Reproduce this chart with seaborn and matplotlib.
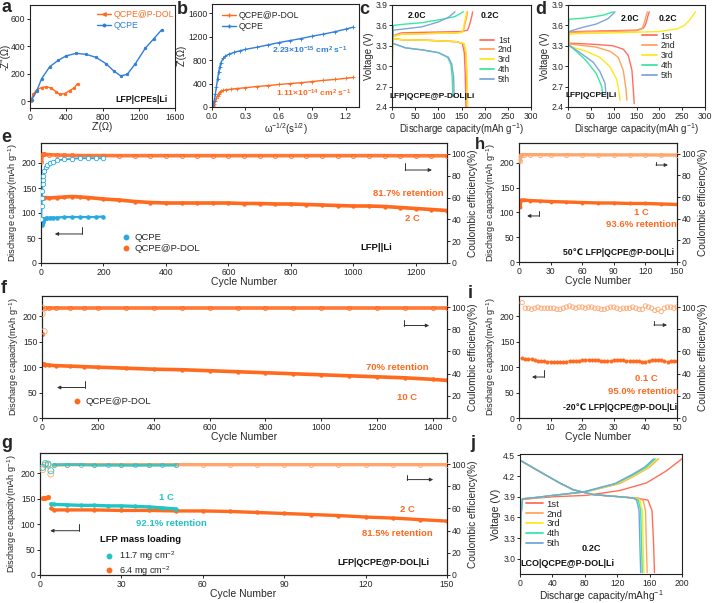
import matplotlib
matplotlib.use('Agg')
import matplotlib.pyplot as plt
import seaborn as sns
from matplotlib.lines import Line2D

# ---------------- data ----------------
# a: Nyquist plots
a_pdol_zre = [7, 36, 73, 127, 182, 236, 291, 327, 382, 436, 491, 525]
a_pdol_zim = [0, 49, 83, 99, 105, 94, 67, 49, 54, 76, 99, 128]
a_qcpe_zre = [18, 73, 127, 218, 309, 400, 509, 618, 727, 836, 927, 1000, 1073, 1164, 1273, 1364, 1455]
a_qcpe_zim = [9, 72, 162, 251, 296, 330, 348, 341, 319, 274, 218, 184, 195, 274, 386, 453, 521]

# b: Z' vs w^-1/2
b_pdol_w = [0.0, 0.01, 0.02, 0.03, 0.04, 0.05, 0.06, 0.07, 0.08, 0.1, 0.13, 0.17, 0.22, 0.3, 0.4, 0.5, 0.6, 0.7, 0.8, 0.9, 1.0, 1.1, 1.2, 1.27]
b_pdol_z = [0, 15, 50, 100, 150, 195, 230, 255, 270, 285, 295, 305, 315, 330, 350, 365, 385, 400, 415, 435, 455, 470, 490, 505]
b_qcpe_w = [0.0, 0.01, 0.02, 0.03, 0.04, 0.05, 0.06, 0.07, 0.08, 0.1, 0.12, 0.15, 0.2, 0.25, 0.3, 0.4, 0.5, 0.6, 0.7, 0.8, 0.9, 1.0, 1.1, 1.2, 1.27]
b_qcpe_z = [0, 40, 110, 220, 350, 480, 600, 690, 760, 830, 870, 900, 935, 960, 985, 1020, 1060, 1100, 1135, 1170, 1210, 1245, 1285, 1330, 1365]

cycle_labels = ['1st', '2nd', '3rd', '4th', '5th']

# c: LFP|QCPE@P-DOL|Li charge / discharge
c_ch_cap = [[0, 1, 3, 20, 80, 150, 163, 166, 169, 172, 174],
            [0, 1, 3, 20, 80, 140, 152, 155, 158, 161, 163],
            [0, 1, 3, 20, 80, 140, 152, 154, 156, 159, 161],
            [0, 1, 3, 30, 65, 108, 136, 154],
            [0, 1, 3, 29, 65, 100, 122, 136]]
c_ch_v = [[2.45, 3.3, 3.45, 3.49, 3.5, 3.51, 3.53, 3.58, 3.65, 3.73, 3.8],
          [2.45, 3.3, 3.44, 3.47, 3.48, 3.49, 3.5, 3.55, 3.63, 3.72, 3.8],
          [2.45, 3.3, 3.44, 3.47, 3.48, 3.49, 3.5, 3.55, 3.63, 3.72, 3.8],
          [2.45, 3.4, 3.6, 3.62, 3.64, 3.69, 3.73, 3.8],
          [2.45, 3.35, 3.53, 3.55, 3.58, 3.65, 3.72, 3.8]]
c_dis_cap = [[0, 20, 80, 140, 152, 156, 158, 159, 159.5],
             [0, 20, 80, 140, 155, 159, 161, 162, 162.5],
             [0, 20, 80, 140, 156, 160, 162, 163, 163.5],
             [0, 29, 65, 100, 120, 127, 130, 131, 132],
             [0, 29, 65, 100, 122, 129, 133, 134, 135]]
c_dis_v = [[3.41, 3.39, 3.38, 3.36, 3.33, 3.2, 2.9, 2.6, 2.4],
           [3.41, 3.39, 3.38, 3.36, 3.33, 3.2, 2.9, 2.6, 2.4],
           [3.41, 3.39, 3.38, 3.36, 3.33, 3.2, 2.9, 2.6, 2.4],
           [3.34, 3.27, 3.24, 3.2, 3.13, 3.03, 2.84, 2.6, 2.55],
           [3.34, 3.27, 3.24, 3.2, 3.13, 3.03, 2.84, 2.6, 2.55]]

# d: LFP|QCPE|Li charge / discharge
d_ch_cap = [[0, 1, 3, 20, 80, 150, 165, 169, 172, 175, 178],
            [0, 1, 3, 20, 80, 150, 162, 165, 168, 171, 174],
            [0, 1, 3, 20, 100, 200, 239, 255, 265, 273, 279],
            [0, 1, 2, 40, 77, 99],
            [0, 1, 2, 26, 62, 88, 103]]
d_ch_v = [[2.5, 3.3, 3.5, 3.51, 3.52, 3.53, 3.56, 3.6, 3.66, 3.74, 3.8],
          [2.5, 3.3, 3.49, 3.5, 3.51, 3.52, 3.55, 3.6, 3.66, 3.74, 3.8],
          [2.5, 3.3, 3.47, 3.48, 3.49, 3.51, 3.55, 3.6, 3.67, 3.74, 3.8],
          [2.55, 3.5, 3.69, 3.71, 3.75, 3.8],
          [2.55, 3.4, 3.51, 3.56, 3.62, 3.7, 3.8]]
d_dis_cap = [[0, 62, 99, 121, 132, 140, 143, 145],
             [0, 62, 92, 110, 121, 127, 129],
             [0, 40, 70, 92, 107, 112, 114],
             [0, 18, 40, 62, 74, 76],
             [0, 26, 55, 70, 81, 83]]
d_dis_v = [[3.34, 3.32, 3.3, 3.25, 3.16, 2.94, 2.66, 2.45],
           [3.33, 3.28, 3.22, 3.13, 2.94, 2.66, 2.5],
           [3.3, 3.22, 3.13, 2.99, 2.8, 2.61, 2.5],
           [3.32, 3.22, 3.08, 2.89, 2.7, 2.56],
           [3.32, 3.2, 3.06, 2.92, 2.75, 2.58]]

# e: long cycling LFP||Li
e_pdol_cyc = [1, 5, 10, 25, 50, 75, 100, 125, 150, 200, 250, 300, 350, 400, 450, 500, 550, 600, 650, 700,
              750, 800, 850, 900, 950, 1000, 1050, 1100, 1150, 1200, 1250, 1300]
e_pdol_cap = [130, 131, 131, 130, 131, 132, 133, 132, 131, 128, 126, 123, 121, 120, 120, 120, 120, 120, 119, 119,
              118, 118, 117, 116, 115, 114, 114, 113, 111, 109, 107, 105]
e_pdol_ce = [93, 99.5, 99.5, 99.3, 99, 98.8, 98.6, 98.5, 98.5, 98.5, 98.4, 98.4, 98.4, 98.4, 98.4, 98.4, 98.4, 98.4,
             98.4, 98.4, 98.4, 98.4, 98.4, 98.4, 98.4, 98.4, 98.4, 98.4, 98.3, 98.3, 98.3, 98.3]
e_qcpe_cyc = [1, 2, 3, 4, 5, 6, 8, 10, 15, 20, 30, 40, 50, 75, 100, 125, 150, 175, 200]
e_qcpe_cap = [88, 80, 76, 79, 83, 86, 88, 89, 90, 90, 91, 91, 91, 92, 92, 92, 92, 92, 93]
e_qcpe_ce = [40, 52, 60, 66, 72, 76, 80, 84, 88, 90, 92, 93, 94, 95, 95.5, 96, 96, 96, 96]

# h: 50 C cycling
h_cyc = [1, 2, 5, 10, 20, 30, 45, 60, 75, 90, 105, 120, 135, 150]
h_cap = [111, 125, 125, 124, 123, 122, 121, 120, 119, 119, 118, 118, 117, 116]
h_ce = [93, 99.2, 99.3, 99.2, 99.2, 99.1, 99.1, 99.1, 99.0, 99.0, 99.0, 99.0, 98.9, 98.9]

# f: 10 C cycling
f_cyc = [1, 2, 8, 10, 25, 50, 100, 150, 200, 300, 400, 500, 600, 700, 800, 900, 1000, 1100, 1200, 1300, 1400, 1450]
f_cap = [165, 107, 106, 105, 104, 103, 102, 101, 100, 98, 96, 95, 93, 91, 89, 87, 85, 83, 81, 79, 76, 74]
f_ce = [94, 99, 78, 99, 99, 99, 99, 99, 99, 99, 99, 99, 99, 99, 99, 99, 99, 99, 99, 99, 99, 99]

# i: -20 C cycling
i_cyc = list(range(1, 51))
i_cap = [118, 117, 116, 116, 114, 112, 112, 112, 111, 111, 111, 111, 111, 110, 111, 113, 113, 113, 113, 114,
         114, 115, 115, 115, 114, 113, 112, 112, 113, 114, 115, 115, 114, 113, 113, 113, 113, 113, 111, 111,
         113, 114, 114, 115, 115, 112, 111, 112, 113, 112]
i_ce = [104, 99, 99, 98, 99, 100, 99, 99, 99, 99, 99, 98, 98, 99, 100, 101, 100, 99, 100, 100,
        99, 100, 100, 99, 99, 98, 98, 99, 100, 100, 99, 98, 99, 99, 99, 100, 99, 98, 98, 101,
        100, 99, 97, 98, 96, 99, 100, 100, 99, 100]

# g: mass loading
g_hi_cyc = [4, 5, 10, 15, 20, 25, 30, 35, 40, 45, 50]
g_hi_cap = [140, 139, 138, 137, 137, 136, 136, 135, 134, 132, 130]
g_hi_ce_cyc = [1, 2, 3, 4, 5, 10, 15, 20, 25, 30, 35, 40, 45, 50]
g_hi_ce = [97, 100.5, 100, 94, 99.5, 99.5, 99.5, 99, 99, 99, 98.8, 99, 99, 99]
g_lo_cyc = [1, 2, 3, 4, 5, 10, 20, 30, 40, 50, 60, 70, 80, 90, 100, 110, 120, 130, 140, 150]
g_lo_cap = [151, 152, 154, 131, 128, 128, 128, 127, 127, 126, 126, 125, 123, 121, 119, 117, 114, 112, 109, 106]
g_lo_ce = [95, 99, 99, 91, 99, 99.5, 99.5, 99.5, 99.5, 99.5, 99.5, 99.5, 99.5, 99.5, 99.5, 99.5, 99.5, 99.5, 99.5, 99.5]

# j: LCO charge/discharge
j_ch_cap = [[0, 1, 3, 20, 41, 82, 123, 156, 180, 200],
            [0, 1, 3, 20, 41, 82, 123, 144, 160, 171],
            [0, 1, 3, 20, 41, 80, 120, 142, 158, 169],
            [0, 1, 3, 20, 41, 79, 118, 140, 156, 167],
            [0, 1, 3, 20, 41, 78, 117, 138, 154, 165]]
j_ch_v = [[2.85, 3.6, 3.86, 3.88, 3.9, 3.92, 3.99, 4.1, 4.27, 4.45],
          [2.88, 3.6, 3.87, 3.89, 3.92, 3.97, 4.09, 4.22, 4.33, 4.45],
          [2.88, 3.6, 3.87, 3.89, 3.92, 3.97, 4.09, 4.22, 4.33, 4.45],
          [2.88, 3.6, 3.87, 3.89, 3.92, 3.97, 4.09, 4.22, 4.33, 4.45],
          [2.88, 3.6, 3.87, 3.89, 3.92, 3.97, 4.09, 4.22, 4.33, 4.45]]
j_dis_cap = [[0, 25, 49, 66, 91, 123, 145, 158, 163, 165, 166],
             [0, 25, 49, 66, 91, 123, 145, 152, 155, 156, 157],
             [0, 25, 49, 66, 91, 123, 143, 148, 151, 152, 153],
             [0, 25, 49, 66, 91, 123, 141, 146, 149, 150, 151],
             [0, 25, 49, 66, 91, 123, 140, 144, 147, 148, 149]]
j_dis_v = [[4.43, 4.26, 4.1, 4.0, 3.93, 3.9, 3.88, 3.85, 3.7, 3.2, 2.8],
           [4.43, 4.26, 4.1, 4.0, 3.93, 3.9, 3.88, 3.85, 3.7, 3.2, 2.8],
           [4.43, 4.26, 4.1, 4.0, 3.93, 3.9, 3.88, 3.85, 3.7, 3.2, 2.8],
           [4.43, 4.26, 4.1, 4.0, 3.93, 3.9, 3.88, 3.85, 3.7, 3.2, 2.8],
           [4.43, 4.26, 4.1, 4.0, 3.93, 3.9, 3.88, 3.85, 3.7, 3.2, 2.8]]

# ---------------- style ----------------
sns.set_style('ticks')
plt.rcParams['font.family'] = ['Liberation Sans', 'DejaVu Sans']
plt.rcParams['mathtext.fontset'] = 'custom'
plt.rcParams['mathtext.rm'] = 'Liberation Sans'
plt.rcParams['mathtext.it'] = 'Liberation Sans:italic'
plt.rcParams['mathtext.bf'] = 'Liberation Sans:bold'
plt.rcParams['axes.unicode_minus'] = False

ORANGE = '#FF6A1F'
ORANGE_L = '#FFA56E'
BLUE = '#2F7ED8'
SKY = '#29A9E0'
TEAL = '#22C4C4'
CYC = ['#FF6F61', '#FFA35C', '#FFE81A', '#3EE6A0', '#7FA6D9']
CYCJ = ['#FF6F55', '#FFA65E', '#FFE81A', '#35E6B0', '#72A6DC']

W, H = 714, 603
fig = plt.figure(figsize=(W / 100, H / 100), dpi=100)
fig.patch.set_facecolor('white')

TS = 6.2   # tick label size
LS = 6.9   # axis label size
TOPB = 107  # bottom of the top-row axes (px)


def box(l, t, r, b):
    return fig.add_axes([l / W, 1 - b / H, (r - l) / W, (b - t) / H])


def style(ax):
    ax.tick_params(labelsize=TS, length=2.2, width=0.7, pad=1.2)
    for s in ax.spines.values():
        s.set_linewidth(0.8)
        s.set_color('#222222')


def line(ax, x, y, color, lw=1.0, marker=None, ms=2, mfc=None, zorder=2, alpha=1.0):
    kw = dict(x=x, y=y, ax=ax, color=color, linewidth=lw, estimator=None, sort=False,
              legend=False, zorder=zorder, alpha=alpha)
    if marker:
        kw.update(marker=marker, markersize=ms, markeredgewidth=0.6,
                  markerfacecolor=(mfc if mfc else color), markeredgecolor=color)
    sns.lineplot(**kw)


def dots(ax, x, y, color, s=8, open_=False, zorder=3):
    if open_:
        sns.scatterplot(x=x, y=y, ax=ax, s=s, facecolors='none', edgecolor=color, linewidth=0.6,
                        legend=False, zorder=zorder)
    else:
        sns.scatterplot(x=x, y=y, ax=ax, s=s, color=color, edgecolor=color, linewidth=0.3,
                        legend=False, zorder=zorder)


def txt(ax, x, y, s, color='#111111', size=6.8, ha='center', bold=True):
    ax.text(x, y, s, transform=ax.transAxes, color=color, fontsize=size, ha=ha, va='center',
            fontweight='bold' if bold else 'normal', zorder=10)


def elbow(ax, xv, yv0, yv1, xh):
    ax.plot([xv, xv], [yv0, yv1], transform=ax.transAxes, color='#333333', lw=0.7, zorder=6,
            clip_on=False)
    ax.annotate('', xy=(xh, yv1), xytext=(xv, yv1), xycoords='axes fraction',
                textcoords='axes fraction',
                arrowprops=dict(arrowstyle='-|>', color='#333333', lw=0.7, mutation_scale=5,
                                shrinkA=0, shrinkB=0), zorder=6)


def letter(x, y, s, size=13, va='center'):
    fig.text(x / W, 1 - y / H, s, fontsize=size, fontweight='bold', ha='left', va=va)


def cycle_legend(ax, colors, anchor, size=6.3):
    hs = [Line2D([], [], color=c, lw=1.3) for c in colors]
    ax.legend(hs, cycle_labels, loc='upper left', bbox_to_anchor=anchor, frameon=False,
              fontsize=size, handlelength=1.7, handletextpad=0.4, labelspacing=0.1,
              borderpad=0, borderaxespad=0)


def cap_axes(ax, ax2):
    ax.set_ylim(0, 240)
    ax.set_yticks([0, 50, 100, 150, 200])
    ax2.set_ylim(0, 110)
    ax2.set_yticks([0, 20, 40, 60, 80, 100])
    ax.set_ylabel('Discharge capacity(mAh g$^{-1}$)', fontsize=LS - 0.3, labelpad=1.5)
    ax2.set_ylabel('Coulombic efficiency(%)', fontsize=LS + 0.3, labelpad=1.5)
    ax.set_xlabel('Cycle Number', fontsize=LS + 0.6, labelpad=0.5)
    style(ax)
    style(ax2)


# ---------------- a ----------------
ax = box(30, 5, 175, TOPB + 1)
line(ax, a_pdol_zre, a_pdol_zim, ORANGE, lw=1.0, marker='o', ms=1.8)
line(ax, a_qcpe_zre, a_qcpe_zim, BLUE, lw=1.0, marker='o', ms=1.8)
ax.set_xlim(0, 1600)
ax.set_ylim(-50, 700)
ax.set_xticks([0, 400, 800, 1200, 1600])
ax.set_yticks([0, 200, 400, 600])
ax.set_xlabel("Z'(Ω)", fontsize=LS, labelpad=0.2)
ax.set_ylabel("-Z''(Ω)", fontsize=LS, labelpad=0)
style(ax)
hs = [Line2D([], [], color=ORANGE, lw=1, marker='<', ms=2.5), Line2D([], [], color=BLUE, lw=1, marker='o', ms=1.8)]
ax.legend(hs, ['QCPE@P-DOL', 'QCPE'], loc='upper left', bbox_to_anchor=(0.43, 0.99), frameon=False,
          fontsize=6.3, handlelength=1.6, handletextpad=0.3, labelspacing=0.15, borderpad=0,
          labelcolor=[ORANGE, BLUE])
txt(ax, 0.77, 0.083, 'LFP|CPEs|Li', size=6.3)
letter(1, 8, 'a')

# ---------------- b ----------------
ax = box(212, 4, 359, TOPB)
line(ax, b_pdol_w, b_pdol_z, ORANGE, lw=1.0, marker='+', ms=2.5)
line(ax, b_qcpe_w, b_qcpe_z, BLUE, lw=1.0, marker='+', ms=2.5)
ax.set_xlim(0, 1.32)
ax.set_ylim(0, 1760)
ax.set_xticks([0.0, 0.3, 0.6, 0.9, 1.2])
ax.set_xticklabels(['0.0', '0.3', '0.6', '0.9', '1.2'])
ax.set_yticks([0, 400, 800, 1200, 1600])
ax.set_xlabel('ω$^{-1/2}$(s$^{1/2}$)', fontsize=LS, labelpad=0.2)
ax.set_ylabel("Z'(Ω)", fontsize=LS, labelpad=0.5)
style(ax)
hs = [Line2D([], [], color=ORANGE, lw=1, marker='+', ms=2.5), Line2D([], [], color=BLUE, lw=1, marker='+', ms=2.5)]
ax.legend(hs, ['QCPE@P-DOL', 'QCPE'], loc='upper left', bbox_to_anchor=(0.04, 0.97), frameon=False,
          fontsize=6.3, handlelength=1.6, handletextpad=0.3, labelspacing=0.15, borderpad=0)
txt(ax, 0.667, 0.547, r'2.23×10$^{\mathbf{-15}}$ cm$^{\mathbf{2}}$ s$^{\mathbf{-1}}$', color=BLUE, size=6.1)
txt(ax, 0.694, 0.132, r'1.11×10$^{\mathbf{-14}}$ cm$^{\mathbf{2}}$ s$^{\mathbf{-1}}$', color=ORANGE, size=6.1)
letter(177, 10, 'b')

# ---------------- c ----------------
ax = box(392, 5, 531, TOPB)
for k in range(5):
    line(ax, c_ch_cap[k], c_ch_v[k], CYC[k], lw=1.0)
    line(ax, c_dis_cap[k], c_dis_v[k], CYC[k], lw=1.0)
ax.set_xlim(0, 300)
ax.set_ylim(2.4, 3.9)
ax.set_xticks([0, 50, 100, 150, 200, 250, 300])
ax.set_yticks([2.4, 2.7, 3.0, 3.3, 3.6, 3.9])
ax.set_xlabel('Discharge capacity(mAh g$^{-1}$)', fontsize=LS, labelpad=0)
ax.set_ylabel('Voltage (V)', fontsize=LS, labelpad=0.5)
style(ax)
cycle_legend(ax, CYC, (0.63, 0.7))
txt(ax, 0.18, 0.897, '2.0C', size=6.3)
txt(ax, 0.705, 0.897, '0.2C', size=6.3)
txt(ax, 0.29, 0.103, 'LFP|QCPE@P-DOL|Li', size=6.0)
letter(359, 9, 'c')

# ---------------- d ----------------
ax = box(568, 5, 705, TOPB)
for k in range(5):
    line(ax, d_ch_cap[k], d_ch_v[k], CYC[k], lw=1.0)
    line(ax, d_dis_cap[k], d_dis_v[k], CYC[k], lw=1.0)
ax.set_xlim(0, 300)
ax.set_ylim(2.4, 3.9)
ax.set_xticks([0, 50, 100, 150, 200, 250, 300])
ax.set_yticks([2.4, 2.7, 3.0, 3.3, 3.6, 3.9])
ax.set_xlabel('Discharge capacity(mAh g$^{-1}$)', fontsize=LS, labelpad=0)
ax.set_ylabel('Voltage (V)', fontsize=LS, labelpad=0.5)
style(ax)
cycle_legend(ax, CYC, (0.54, 0.74))
txt(ax, 0.453, 0.869, '2.0C', size=6.3)
txt(ax, 0.73, 0.869, '0.2C', size=6.3)
txt(ax, 0.17, 0.112, 'LFP|QCPE|Li', size=6.0)
letter(535, 10, 'd')

# ---------------- e ----------------
ax = box(41, 143, 447, 263)
ax2 = ax.twinx()
line(ax, e_pdol_cyc, e_pdol_cap, ORANGE, lw=2.6, marker='o', ms=2.5, zorder=3)
line(ax, e_qcpe_cyc, e_qcpe_cap, SKY, lw=1.6, marker='o', ms=2.6, zorder=4)
line(ax2, e_pdol_cyc, e_pdol_ce, ORANGE, lw=2.6, marker='o', ms=3, mfc='none', zorder=3, alpha=0.9)
line(ax2, e_qcpe_cyc, e_qcpe_ce, SKY, lw=1.2, marker='o', ms=3.2, mfc='white', zorder=4)
ax.set_xlim(0, 1300)
ax.set_xticks([0, 200, 400, 600, 800, 1000, 1200])
cap_axes(ax, ax2)
hs = [Line2D([], [], color=SKY, ls='none', marker='o', ms=3.2),
      Line2D([], [], color=ORANGE, ls='none', marker='o', ms=3.2)]
ax2.legend(hs, ['QCPE', 'QCPE@P-DOL'], loc='upper left', bbox_to_anchor=(0.185, 0.29), frameon=False,
           fontsize=6.8, handlelength=1.0, handletextpad=0.4, labelspacing=0.25, borderpad=0)
txt(ax2, 0.904, 0.583, '81.7% retention', color=ORANGE)
txt(ax2, 0.914, 0.367, '2 C', color=ORANGE)
txt(ax2, 0.825, 0.125, 'LFP||Li')
elbow(ax2, 0.101, 0.30, 0.242, 0.034)
elbow(ax2, 0.897, 0.833, 0.775, 0.963)
letter(1, 137, 'e')

# ---------------- h ----------------
ax = box(519, 143, 677, 262)
ax2 = ax.twinx()
line(ax, h_cyc, h_cap, ORANGE, lw=2.4, marker='o', ms=2.2, zorder=3)
line(ax2, h_cyc, h_ce, ORANGE_L, lw=2.4, marker='o', ms=3, mfc='none', zorder=3)
ax.set_xlim(0, 150)
ax.set_xticks([0, 30, 60, 90, 120, 150])
cap_axes(ax, ax2)
txt(ax2, 0.778, 0.412, '1 C', color=ORANGE)
txt(ax2, 0.778, 0.311, '93.6% retention', color=ORANGE)
txt(ax2, 0.627, 0.076, '50℃ LFP|QCPE@P-DOL|Li', size=6.2)
elbow(ax2, 0.127, 0.429, 0.387, 0.051)
elbow(ax2, 0.867, 0.84, 0.815, 0.943)
letter(475, 137, 'h', size=12, va='top')

# ---------------- f ----------------
ax = box(42, 296, 447, 418)
ax2 = ax.twinx()
line(ax, f_cyc[1:], f_cap[1:], ORANGE, lw=2.6, marker='o', ms=2.5, zorder=3)
dots(ax, f_cyc[:1], f_cap[:1], ORANGE, s=12)
line(ax2, f_cyc[3:], f_ce[3:], ORANGE, lw=2.6, marker='o', ms=3, mfc='none', zorder=3, alpha=0.9)
dots(ax2, f_cyc[:3], f_ce[:3], ORANGE_L, s=18, open_=True)
ax.set_xlim(0, 1450)
ax.set_xticks([0, 200, 400, 600, 800, 1000, 1200, 1400])
cap_axes(ax, ax2)
hs = [Line2D([], [], color=ORANGE, ls='none', marker='o', ms=3.2)]
ax2.legend(hs, ['QCPE@P-DOL'], loc='upper left', bbox_to_anchor=(0.064, 0.21), frameon=False,
           fontsize=6.8, handlelength=1.0, handletextpad=0.4, borderpad=0)
txt(ax2, 0.877, 0.411, '70% retention', color=ORANGE)
txt(ax2, 0.901, 0.169, '10 C', color=ORANGE)
elbow(ax2, 0.106, 0.306, 0.25, 0.037)
elbow(ax2, 0.894, 0.806, 0.758, 0.956)
letter(1, 289, 'f')

# ---------------- i ----------------
ax = box(519, 296, 677, 418)
ax2 = ax.twinx()
line(ax, i_cyc, i_cap, ORANGE, lw=0.5, marker='o', ms=2.3, zorder=3)
dots(ax2, i_cyc, i_ce, ORANGE_L, s=10, open_=True)
ax.set_xlim(0, 50)
ax.set_xticks([0, 10, 20, 30, 40, 50])
cap_axes(ax, ax2)
txt(ax2, 0.804, 0.32, '0.1 C', color=ORANGE)
txt(ax2, 0.785, 0.221, '95.0% retention', color=ORANGE)
txt(ax2, 0.639, 0.082, '-20℃ LFP|QCPE@P-DOL|Li', size=6.2)
elbow(ax2, 0.158, 0.393, 0.336, 0.082)
elbow(ax2, 0.854, 0.795, 0.762, 0.937)
letter(468, 293, 'i')

# ---------------- g ----------------
ax = box(40, 453, 447, 575)
ax2 = ax.twinx()
line(ax, g_lo_cyc[3:], g_lo_cap[3:], ORANGE, lw=2.4, marker='o', ms=2.5, zorder=3)
dots(ax, g_lo_cyc[:3], g_lo_cap[:3], ORANGE, s=12)
line(ax, g_hi_cyc, g_hi_cap, TEAL, lw=2.4, marker='o', ms=2.5, zorder=4)
line(ax2, g_lo_cyc[4:], g_lo_ce[4:], ORANGE_L, lw=2.4, marker='o', ms=3, mfc='none', zorder=3)
dots(ax2, g_lo_cyc[:4], g_lo_ce[:4], ORANGE_L, s=18, open_=True)
line(ax2, g_hi_ce_cyc[4:], g_hi_ce[4:], TEAL, lw=2.0, marker='o', ms=3, mfc='none', zorder=4, alpha=0.8)
dots(ax2, g_hi_ce_cyc[:4], g_hi_ce[:4], TEAL, s=18, open_=True)
ax.set_xlim(0, 150)
ax.set_xticks([0, 30, 60, 90, 120, 150])
cap_axes(ax, ax2)
txt(ax2, 0.246, 0.29, 'LFP mass loading')
hs = [Line2D([], [], color=TEAL, ls='none', marker='o', ms=3.2),
      Line2D([], [], color=ORANGE, ls='none', marker='o', ms=3.2)]
ax2.legend(hs, ['11.7 mg cm$^{-2}$', '6.4 mg cm$^{-2}$'], loc='upper left', bbox_to_anchor=(0.147, 0.245),
           frameon=False, fontsize=6.6, handlelength=1.0, handletextpad=0.6, labelspacing=0.05, borderpad=0)
txt(ax2, 0.31, 0.637, '1 C', color=TEAL)
txt(ax2, 0.324, 0.419, '92.1% retention', color=TEAL)
txt(ax2, 0.904, 0.54, '2 C', color=ORANGE)
txt(ax2, 0.877, 0.339, '81.5% retention', color=ORANGE)
txt(ax2, 0.843, 0.105, 'LFP|QCPE@P-DOL|Li', size=6.5)
elbow(ax2, 0.096, 0.419, 0.363, 0.025)
elbow(ax2, 0.902, 0.823, 0.782, 0.966)
letter(1, 443, 'g')

# ---------------- j ----------------
ax = box(520, 454, 682, 574)
for k in range(5):
    line(ax, j_ch_cap[k], j_ch_v[k], CYCJ[k], lw=1.0)
    line(ax, j_dis_cap[k], j_dis_v[k], CYCJ[k], lw=1.0)
ax.set_xlim(0, 200)
ax.set_ylim(2.78, 4.52)
ax.set_xticks([0, 40, 80, 120, 160, 200])
ax.set_yticks([3.0, 3.3, 3.6, 3.9, 4.2, 4.5])
ax.set_xlabel('Discharge capacity/mAhg$^{-1}$', fontsize=LS + 0.4, labelpad=0.3)
ax.set_ylabel('Voltage (V)', fontsize=LS + 0.6, labelpad=1.5)
style(ax)
cycle_legend(ax, CYCJ, (0.04, 0.62), size=6.8)
txt(ax, 0.44, 0.21, '0.2C', size=6.6)
txt(ax, 0.29, 0.089, 'LCO|QCPE@P-DOL|Li', size=6.5)
letter(470, 443, 'j')

fig.savefig('out.png', dpi=100, facecolor='white')
